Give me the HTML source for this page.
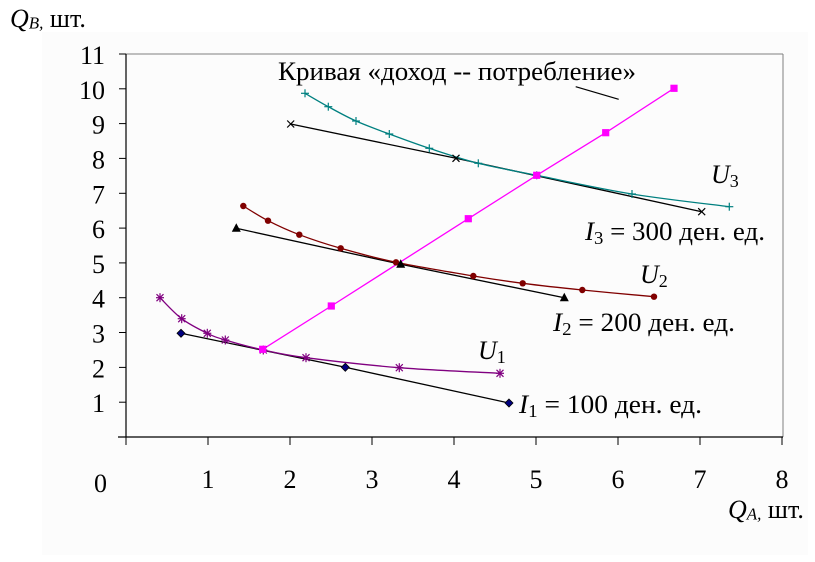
<!DOCTYPE html>
<html>
<head>
<meta charset="utf-8">
<style>
  html, body { margin: 0; padding: 0; background: #ffffff; }
  svg { display: block; }
  text { font-family: "Liberation Serif", "Noto Serif CJK SC", serif; fill: #000; }
</style>
</head>
<body>
<svg width="815" height="562" viewBox="0 0 815 562" xmlns="http://www.w3.org/2000/svg">
  <defs>
    <g id="star" stroke="#800080" stroke-width="1.2" fill="none">
      <line x1="-4" y1="0" x2="4" y2="0"/>
      <line x1="0" y1="-4.5" x2="0" y2="4.5"/>
      <line x1="-3.5" y1="-3.5" x2="3.5" y2="3.5"/>
      <line x1="-3.5" y1="3.5" x2="3.5" y2="-3.5"/>
    </g>
    <g id="plus" stroke="#008080" stroke-width="1.2" fill="none">
      <line x1="-4" y1="0" x2="4" y2="0"/>
      <line x1="0" y1="-4" x2="0" y2="4"/>
    </g>
    <g id="cross" stroke="#000" stroke-width="1.2" fill="none">
      <line x1="-3.5" y1="-3.5" x2="3.5" y2="3.5"/>
      <line x1="-3.5" y1="3.5" x2="3.5" y2="-3.5"/>
    </g>
    <polygon id="diam" points="0,-4 4,0 0,4 -4,0" fill="#000080" stroke="#000" stroke-width="0.8"/>
    <polygon id="tri" points="0,-5 4.5,3.5 -4.5,3.5" fill="#000"/>
    <circle id="dot" r="3.2" fill="#800000"/>
    <rect id="sq" x="-3.6" y="-3.6" width="7.2" height="7.2" fill="#ff00ff"/>
  </defs>

  <rect x="42" y="32" width="766" height="523" fill="#fcfcfc"/>

  <!-- plot border -->
  <line x1="126" y1="54" x2="783" y2="54" stroke="#808080" stroke-width="1"/>
  <line x1="783" y1="54" x2="783" y2="437" stroke="#808080" stroke-width="1"/>

  <!-- axes -->
  <line x1="126" y1="54" x2="126" y2="437" stroke="#000" stroke-width="1.2"/>
  <line x1="118" y1="437" x2="783" y2="437" stroke="#000" stroke-width="1.2"/>

  <!-- y ticks -->
  <g stroke="#000" stroke-width="1">
    <line x1="119" y1="437" x2="126" y2="437"/>
    <line x1="119" y1="402.2" x2="126" y2="402.2"/>
    <line x1="119" y1="367.4" x2="126" y2="367.4"/>
    <line x1="119" y1="332.5" x2="126" y2="332.5"/>
    <line x1="119" y1="297.7" x2="126" y2="297.7"/>
    <line x1="119" y1="262.9" x2="126" y2="262.9"/>
    <line x1="119" y1="228.1" x2="126" y2="228.1"/>
    <line x1="119" y1="193.3" x2="126" y2="193.3"/>
    <line x1="119" y1="158.4" x2="126" y2="158.4"/>
    <line x1="119" y1="123.6" x2="126" y2="123.6"/>
    <line x1="119" y1="88.8" x2="126" y2="88.8"/>
    <line x1="119" y1="54" x2="126" y2="54"/>
  </g>
  <!-- x ticks -->
  <g stroke="#000" stroke-width="1">
    <line x1="126" y1="437" x2="126" y2="445"/>
    <line x1="208" y1="437" x2="208" y2="445"/>
    <line x1="290" y1="437" x2="290" y2="445"/>
    <line x1="372" y1="437" x2="372" y2="445"/>
    <line x1="454" y1="437" x2="454" y2="445"/>
    <line x1="536" y1="437" x2="536" y2="445"/>
    <line x1="618" y1="437" x2="618" y2="445"/>
    <line x1="700" y1="437" x2="700" y2="445"/>
    <line x1="782" y1="437" x2="782" y2="445"/>
  </g>

  <!-- y tick labels -->
  <g font-size="26" text-anchor="end">
    <text x="105" y="412.2">1</text>
    <text x="105" y="377.4">2</text>
    <text x="105" y="342.5">3</text>
    <text x="105" y="307.7">4</text>
    <text x="105" y="272.9">5</text>
    <text x="105" y="238.1">6</text>
    <text x="105" y="203.3">7</text>
    <text x="105" y="168.4">8</text>
    <text x="105" y="133.6">9</text>
    <text x="105" y="98.8">10</text>
    <text x="105" y="64">11</text>
  </g>
  <!-- x tick labels -->
  <g font-size="26" text-anchor="middle">
    <text x="100.5" y="492">0</text>
    <text x="208" y="488">1</text>
    <text x="290" y="488">2</text>
    <text x="372" y="488">3</text>
    <text x="454" y="488">4</text>
    <text x="536" y="488">5</text>
    <text x="618" y="488">6</text>
    <text x="700" y="488">7</text>
    <text x="782" y="488">8</text>
  </g>

  <!-- axis titles -->
  <text x="10" y="27" font-size="26"><tspan font-style="italic">Q</tspan><tspan font-style="italic" font-size="17" dy="1.5">B,</tspan><tspan dy="-1.5"> шт.</tspan></text>
  <text x="728" y="518" font-size="26"><tspan font-style="italic">Q</tspan><tspan font-style="italic" font-size="17" dy="1.5">A,</tspan><tspan dy="-1.5"> шт.</tspan></text>

  <!-- budget lines -->
  <polyline points="181,333.3 345.3,367.3 509,403" fill="none" stroke="#000" stroke-width="1.3"/>
  <polyline points="236.3,228.3 400.7,264.3 564.3,297.7" fill="none" stroke="#000" stroke-width="1.3"/>
  <polyline points="290.7,124 456,158.3 701.7,211.7" fill="none" stroke="#000" stroke-width="1.3"/>

  <!-- U1 -->
  <path d="M160,297.7 C163.6,301.2 173.8,312.8 181.7,318.7 C189.6,324.6 200,329.75 207.3,333.3 C214.6,336.85 216,337.2 225.3,340 C234.6,342.8 249.85,347.05 263.3,350 C276.75,352.95 283.3,354.75 306,357.7 C328.7,360.65 366.97,365.1 399.3,367.7 C431.6,370.3 483.2,372.4 500,373.3" fill="none" stroke="#800080" stroke-width="1.3"/>
  <!-- U2 -->
  <path d="M243.3,206 C247.4,208.45 258.67,215.92 268,220.7 C277.33,225.48 287.18,230.1 299.3,234.7 C311.42,239.3 324.58,243.7 340.7,248.3 C356.82,252.9 373.9,257.68 396,262.3 C418.1,266.92 452.18,272.5 473.3,276 C494.42,279.5 504.53,280.97 522.7,283.3 C540.87,285.63 560.42,287.77 582.3,290 C604.18,292.23 642.05,295.58 654,296.7" fill="none" stroke="#800000" stroke-width="1.3"/>
  <!-- U3 -->
  <path d="M305,93.3 C308.88,95.53 319.8,102.08 328.3,106.7 C336.8,111.32 345.83,116.45 356,121 C366.17,125.55 377.08,129.45 389.3,134 C401.52,138.55 414.47,143.42 429.3,148.3 C444.13,153.18 460.4,158.8 478.3,163.3 C496.2,167.8 511.08,170.18 536.7,175.3 C562.32,180.42 599.9,188.77 632,194 C664.1,199.23 713.08,204.58 729.3,206.7" fill="none" stroke="#008080" stroke-width="1.3"/>

  <!-- income-consumption curve -->
  <polyline points="262.7,349.3 331.3,306 468.3,218.7 536.7,175.3 605.7,132.7 674,88.3" fill="none" stroke="#ff00ff" stroke-width="1.3"/>

  <!-- markers: U curves -->
  <use href="#star" x="160" y="297.7"/>
  <use href="#star" x="181.7" y="318.7"/>
  <use href="#star" x="207.3" y="333.3"/>
  <use href="#star" x="225.3" y="340"/>
  <use href="#star" x="263.3" y="350"/>
  <use href="#star" x="306" y="357.7"/>
  <use href="#star" x="399.3" y="367.7"/>
  <use href="#star" x="500" y="373.3"/>

  <use href="#dot" x="243.3" y="206"/>
  <use href="#dot" x="268" y="220.7"/>
  <use href="#dot" x="299.3" y="234.7"/>
  <use href="#dot" x="340.7" y="248.3"/>
  <use href="#dot" x="396" y="262.3"/>
  <use href="#dot" x="473.3" y="276"/>
  <use href="#dot" x="522.7" y="283.3"/>
  <use href="#dot" x="582.3" y="290"/>
  <use href="#dot" x="654" y="296.7"/>

  <use href="#plus" x="305" y="93.3"/>
  <use href="#plus" x="328.3" y="106.7"/>
  <use href="#plus" x="356" y="121"/>
  <use href="#plus" x="389.3" y="134"/>
  <use href="#plus" x="429.3" y="148.3"/>
  <use href="#plus" x="478.3" y="163.3"/>
  <use href="#plus" x="536.7" y="175.3"/>
  <use href="#plus" x="632" y="194"/>
  <use href="#plus" x="729.3" y="206.7"/>

  <!-- pink squares -->
  <use href="#sq" x="262.7" y="349.3"/>
  <use href="#sq" x="331.3" y="306"/>
  <use href="#sq" x="468.3" y="218.7"/>
  <use href="#sq" x="536.7" y="175.3"/>
  <use href="#sq" x="605.7" y="132.7"/>
  <use href="#sq" x="674" y="88.3"/>

  <!-- budget markers -->
  <use href="#diam" x="181" y="333.3"/>
  <use href="#diam" x="345.3" y="367.3"/>
  <use href="#diam" x="509" y="403"/>

  <use href="#tri" x="236.3" y="228.3"/>
  <use href="#tri" x="400.7" y="264.3"/>
  <use href="#tri" x="564.3" y="297.7"/>

  <use href="#cross" x="290.7" y="124"/>
  <use href="#cross" x="456" y="158.3"/>
  <use href="#cross" x="701.7" y="211.7"/>

  <!-- annotation -->
  <text x="278" y="80" font-size="26" textLength="358" lengthAdjust="spacingAndGlyphs">Кривая «доход -- потребление»</text>
  <line x1="575.7" y1="86.7" x2="618.7" y2="99.3" stroke="#000" stroke-width="1.2"/>

  <!-- curve labels -->
  <text x="711" y="183" font-size="26"><tspan font-style="italic">U</tspan><tspan font-size="18" dy="4">3</tspan></text>
  <text x="640" y="283" font-size="26"><tspan font-style="italic">U</tspan><tspan font-size="18" dy="4">2</tspan></text>
  <text x="478" y="359" font-size="26"><tspan font-style="italic">U</tspan><tspan font-size="18" dy="4">1</tspan></text>

  <text x="585" y="240" font-size="26" textLength="180" lengthAdjust="spacingAndGlyphs"><tspan font-style="italic">I</tspan><tspan font-size="18" dy="4">3</tspan><tspan dy="-4"> = 300 ден. ед.</tspan></text>
  <text x="553" y="331" font-size="26" textLength="182" lengthAdjust="spacingAndGlyphs"><tspan font-style="italic">I</tspan><tspan font-size="18" dy="4">2</tspan><tspan dy="-4"> = 200 ден. ед.</tspan></text>
  <text x="519" y="413" font-size="26" textLength="183" lengthAdjust="spacingAndGlyphs"><tspan font-style="italic">I</tspan><tspan font-size="18" dy="4">1</tspan><tspan dy="-4"> = 100 ден. ед.</tspan></text>
</svg>
</body>
</html>
